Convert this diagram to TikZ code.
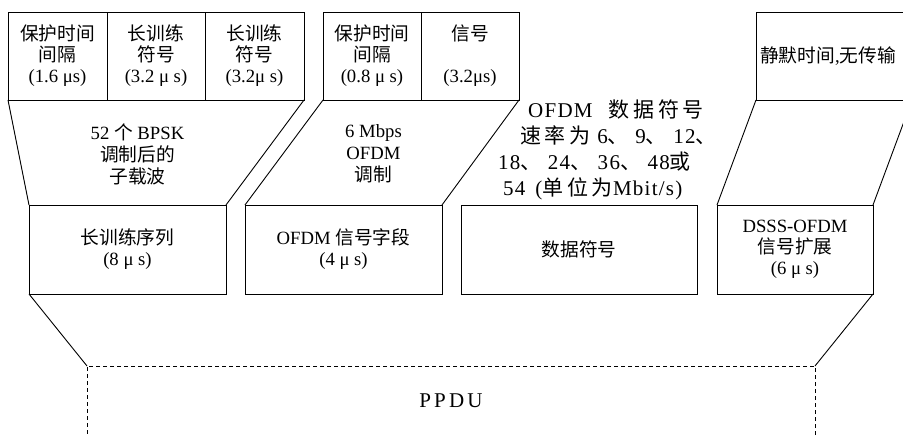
\documentclass[tikz,border=0pt]{standalone}
\usepackage{fontspec}
\setmainfont{Liberation Serif}
\newfontfamily\zhfont{Noto Sans CJK SC}
\newfontfamily\zhwide[LetterSpace=18]{Noto Sans CJK SC}
\newcommand{\zh}[1]% chinese text
{{\zhfont #1}}
\newcommand{\zw}[1]% chinese text, spaced
{{\zhwide #1}}

\begin{document}
\begin{tikzpicture}[x=1pt,y=-1pt,
  field/.style={draw,line width=0.9pt,inner sep=0pt,outer sep=0pt,align=center,
    minimum height=88,font=\fontsize{18.7}{21}\selectfont},
  note/.style={align=center,inner sep=0pt,font=\fontsize{18.7}{22}\selectfont}]
  \useasboundingbox (0,0) rectangle (903,436);
  \clip (0,0) rectangle (903,436);
  % top row
  \node[field,minimum width=99] (gi1) at (57.5,56) {\zh{保护时间}\\\zh{间隔}\\(1.6 μs)};
  \node[field,minimum width=98] (lt1) at (156,56) {\zh{长训练}\\\zh{符号}\\(3.2 μ s)};
  \node[field,minimum width=99] (lt2) at (254.5,56) {\zh{长训练}\\\zh{符号}\\(3.2μ s)};
  \node[field,minimum width=98] (gi2) at (372,56) {\zh{保护时间}\\\zh{间隔}\\(0.8 μ s)};
  \node[field,minimum width=98] (sigf) at (470,56) {\zh{信号}\\[21pt](3.2μs)};
  \node[field,minimum width=156] (quiet) at (834,56) {\zh{静默时间},\zh{无传输}\hspace*{12pt}};
  % middle row
  \node[field,minimum width=197,minimum height=89] (lts) at (127.5,249.5) {\zh{长训练序列}\\(8 μ s)};
  \node[field,minimum width=197,minimum height=89] (sig) at (343.5,249.5) {OFDM \zh{信号字段}\\(4 μ s)};
  \node[field,minimum width=236,minimum height=89] (data) at (579,249.5) {\zh{数据符号}};
  \node[field,minimum width=156,minimum height=89] (dsss) at (795,249.5) {DSSS-OFDM\\\zh{信号扩展}\\(6 μ s)};
  % texts between
  \node[note] (bpsk) at (137.5,154) {52 \zh{个} BPSK\\\zh{调制后的}\\\zh{子载波}};
  \node[note] (mod) at (373.5,154) {6 Mbps\\OFDM\\\zh{调制}};
  \node[anchor=west,align=left,inner sep=0pt,
    font=\fontsize{21}{26}\selectfont\addfontfeature{LetterSpace=6}] (rate) at (498,150)
    {\hspace*{30pt}OFDM\hspace{16pt}\zw{数据符号}\\
     \hspace*{22pt}\zw{速率为} 6\zw{、} 9\zw{、} 12\zw{、}\\
     18\zw{、} 24\zw{、} 36\zw{、} 48\zw{或}\\
     \hspace*{5pt}54\hspace{10pt}(\zw{单位为}Mbit/s)};
  % ppdu
  \node[draw,dashed,dash pattern=on 4pt off 3pt,line width=0.8pt,outer sep=0pt,
    minimum width=728,minimum height=104,
    label={[font=\fontsize{21}{24}\selectfont\addfontfeature{LetterSpace=15},yshift=17pt]center:PPDU}]
    (ppdu) at (451,418) {};
  \draw[line width=0.9pt] (gi1.south west) -- (lts.north west);
  \draw[line width=0.9pt] (lt2.south east) -- (lts.north east);
  \draw[line width=0.9pt] (gi2.south west) -- (sig.north west);
  \draw[line width=0.9pt] (sigf.south east) -- (sig.north east);
  \draw[line width=0.9pt] (quiet.south west) -- (dsss.north west);
  \draw[line width=0.9pt] (quiet.south east) -- (dsss.north east);
  \draw[line width=0.9pt] (lts.south west) -- (ppdu.north west);
  \draw[line width=0.9pt] (dsss.south east) -- (ppdu.north east);
\end{tikzpicture}
\end{document}
